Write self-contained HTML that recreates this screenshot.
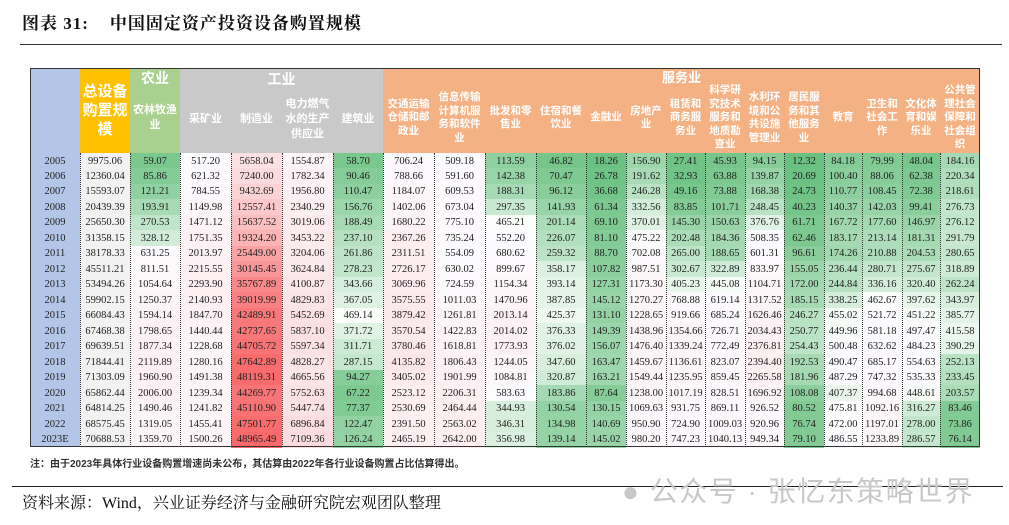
<!DOCTYPE html>
<html><head><meta charset="utf-8">
<style>
body{margin:0;width:1009px;height:525px;background:#fff;position:relative;overflow:hidden;font-family:"Liberation Serif","Noto Serif CJK SC",serif;}
.a{position:absolute;}
.title{left:22px;top:9px;font-size:17px;font-weight:bold;font-family:"Liberation Serif","Noto Serif CJK SC",serif;color:#111;letter-spacing:1px;}
.hd{position:absolute;color:#fff;font-weight:bold;font-family:"Liberation Sans","Noto Sans CJK SC",sans-serif;display:flex;align-items:center;justify-content:center;text-align:center;line-height:15px;}
.c{position:absolute;font-size:10.5px;color:#222;display:flex;align-items:center;justify-content:center;box-sizing:border-box;}
.dl{position:absolute;top:153px;height:294px;border-left:1px dotted #333;}
</style></head><body>
<div class="a title">图表 31:&nbsp;&nbsp;&nbsp;&nbsp;中国固定资产投资设备购置规模</div>
<div class="a" style="left:20px;top:44px;width:982px;height:1px;background:#333"></div>
<div id="t"></div>
<div class="a" style="left:30px;top:68px;width:950px;height:379px;border:1px solid #333;box-sizing:border-box;pointer-events:none;z-index:5"></div>
<div class="a" style="left:30px;top:455px;font-size:10px;font-weight:bold;color:#333;font-family:'Liberation Sans','Noto Sans CJK SC',sans-serif">注：由于2023年具体行业设备购置增速尚未公布，其估算由2022年各行业设备购置占比估算得出。</div>
<div class="a" style="left:12px;top:486px;width:991px;height:1px;background:#222"></div>
<div class="a" style="left:622px;top:470px;font-size:28px;color:#c8c8c8;font-family:'Liberation Sans','Noto Sans CJK SC',sans-serif;letter-spacing:1.5px">● 公众号 · 张忆东策略世界</div>
<div class="a" style="left:22px;top:490px;font-size:16px;color:#111;font-family:'Liberation Serif','Noto Serif CJK SC',serif">资料来源：Wind，兴业证券经济与金融研究院宏观团队整理</div>
<script>
(function(){
var X=[30,80,130,180,231,282,333,383,434,485,536,586,626,666,705,745,784,824,862,902,940,980];
var D=[
["2005",9975.06,59.07,517.20,5658.04,1554.87,58.70,706.24,509.18,113.59,46.82,18.26,156.90,27.41,45.93,94.15,12.32,84.18,79.99,48.04,184.16],
["2006",12360.04,85.86,621.32,7240.00,1782.34,90.46,788.66,591.60,142.38,70.47,26.78,191.62,32.93,63.88,139.87,20.69,100.40,88.06,62.38,220.34],
["2007",15593.07,121.21,784.55,9432.69,1956.80,110.47,1184.07,609.53,188.31,96.12,36.68,246.28,49.16,73.88,168.38,24.73,110.77,108.45,72.38,218.61],
["2008",20439.39,193.91,1149.98,12557.41,2340.29,156.76,1402.06,673.04,297.35,141.93,61.34,332.56,83.85,101.71,248.45,40.23,140.37,142.03,99.41,276.73],
["2009",25650.30,270.53,1471.12,15637.52,3019.06,188.49,1680.22,775.10,465.21,201.14,69.10,370.01,145.30,150.63,376.76,61.71,167.72,177.60,146.97,276.12],
["2010",31358.15,328.12,1751.35,19324.20,3453.22,237.10,2367.26,735.24,552.20,226.07,81.10,475.22,202.48,184.36,508.35,62.46,183.17,213.14,181.31,291.79],
["2011",38178.33,631.25,2013.97,25449.00,3204.06,261.86,2311.51,554.09,680.62,259.32,88.70,702.08,265.00,188.65,601.31,96.61,174.26,210.88,204.53,280.65],
["2012",45511.21,811.51,2215.55,30145.45,3624.84,278.23,2726.17,630.02,899.67,358.17,107.82,987.51,302.67,322.89,833.97,155.05,236.44,280.71,275.67,318.89],
["2013",53494.26,1054.64,2293.90,35767.89,4100.87,343.66,3069.96,724.59,1154.34,393.14,127.31,1173.30,405.23,445.08,1104.71,172.00,244.84,336.16,320.40,262.24],
["2014",59902.15,1250.37,2140.93,39019.99,4829.83,367.05,3575.55,1011.03,1470.96,387.85,145.12,1270.27,768.88,619.14,1317.52,185.15,338.25,462.67,397.62,343.97],
["2015",66084.43,1594.14,1847.70,42489.91,5452.69,469.14,3879.42,1261.81,2013.14,425.37,131.10,1228.65,919.66,685.24,1626.46,246.27,455.02,521.72,451.22,385.77],
["2016",67468.38,1798.65,1440.44,42737.65,5837.10,371.72,3570.54,1422.83,2014.02,376.33,149.39,1438.96,1354.66,726.71,2034.43,250.77,449.96,581.18,497.47,415.58],
["2017",69639.51,1877.34,1228.68,44705.72,5597.34,311.71,3780.46,1618.81,1773.93,376.02,156.07,1476.40,1339.24,772.49,2376.81,254.43,500.48,632.62,484.23,390.29],
["2018",71844.41,2119.89,1280.16,47642.89,4828.27,287.15,4135.82,1806.43,1244.05,347.60,163.47,1459.67,1136.61,823.07,2394.40,192.53,490.47,685.17,554.63,252.13],
["2019",71303.09,1960.90,1491.38,48119.31,4665.56,94.27,3405.02,1901.99,1084.81,320.87,163.21,1549.44,1235.95,859.45,2265.58,181.96,487.29,747.32,535.33,233.45],
["2020",65862.44,2006.00,1239.34,44269.77,5752.63,67.22,2523.12,2206.31,583.63,183.86,87.64,1238.00,1017.19,828.51,1696.92,108.08,407.37,994.68,448.61,203.57],
["2021",64814.25,1490.46,1241.82,45110.90,5447.74,77.37,2530.69,2464.44,344.93,130.54,130.15,1069.63,931.75,869.11,926.52,80.52,475.81,1092.16,316.27,83.46],
["2022",68575.45,1319.05,1455.41,47501.77,6896.84,122.47,2391.50,2563.02,346.31,134.98,140.69,950.90,724.90,1009.03,920.96,76.74,472.00,1197.01,278.00,73.86],
["2023E",70688.53,1359.70,1500.26,48965.49,7109.36,126.24,2465.19,2642.00,356.98,139.14,145.02,980.20,747.23,1040.13,949.34,79.10,486.55,1233.89,286.57,76.14]];
function lerp(a,b,t){return Math.round(a+(b-a)*t);}
function col(v){
 if(v<=480){var t=Math.pow(v/480,0.9);return "rgb("+lerp(99,255,t)+","+lerp(190,255,t)+","+lerp(123,255,t)+")";}
 var t=Math.min(1,Math.pow((v-480)/(48965-480),0.75));return "rgb("+lerp(252,248,t)+","+lerp(252,105,t)+","+lerp(255,107,t)+")";}
var h="";
var y0=153,rh=294/19;
h+='<div class="a" style="left:30px;top:68px;width:50px;height:379px;background:#b4c6e7"></div>';
function hd(x1,x2,y1,y2,bg,txt,fs,lh){return '<div class="hd" style="left:'+x1+'px;top:'+y1+'px;width:'+(x2-x1)+'px;height:'+(y2-y1)+'px;background:'+bg+';font-size:'+fs+'px'+(lh?';line-height:'+lh+'px':'')+'">'+txt+'</div>';}
h+=hd(80,130,68,153,"#ffc000","总设备<br>购置规<br>模",15,19);
h+=hd(130,180,68,153,"#a9d08e","",11);
h+='<div class="hd" style="left:130px;top:68px;width:50px;height:20px;font-size:14px">农业</div>';
h+='<div class="hd" style="left:130px;top:95px;width:50px;height:45px;font-size:11px">农林牧渔<br>业</div>';
h+=hd(180,383,68,153,"#c9c9c9","",11);
h+='<div class="hd" style="left:180px;top:68px;width:203px;height:22px;font-size:14px">工业</div>';
var ind=["采矿业","制造业","电力燃气<br>水的生产<br>供应业","建筑业"];
for(var i=0;i<4;i++)h+='<div class="hd" style="left:'+X[3+i]+'px;top:90px;width:'+(X[4+i]-X[3+i])+'px;height:58px;font-size:11px">'+ind[i]+'</div>';
h+=hd(383,980,68,153,"#f4b183","",11);
h+='<div class="hd" style="left:383px;top:68px;width:597px;height:18px;font-size:13px">服务业</div>';
var sv=["交通运输<br>仓储和邮<br>政业","信息传输<br>计算机服<br>务和软件<br>业","批发和零<br>售业","住宿和餐<br>饮业","金融业","房地产<br>业","租赁和<br>商务服<br>务业","科学研<br>究技术<br>服务和<br>地质勘<br>查业","水利环<br>境和公<br>共设施<br>管理业","居民服<br>务和其<br>他服务<br>业","教育","卫生和<br>社会工<br>作","文化体<br>育和娱<br>乐业","公共管<br>理社会<br>保障和<br>社会组<br>织"];
for(var i=0;i<14;i++)h+='<div class="hd" style="left:'+X[7+i]+'px;top:84px;width:'+(X[8+i]-X[7+i])+'px;height:68px;font-size:10.5px;line-height:13.5px">'+sv[i]+'</div>';
for(var r=0;r<19;r++){
 var y=y0+r*rh;
 for(var c=0;c<21;c++){
  var v=D[r][c],bg,txt;
  if(c==0){bg="transparent";txt=v;}
  else{txt=v.toFixed(2);bg=(c==1)?"#f2f2f2":col(v);}
  h+='<div class="c" style="left:'+X[c]+'px;top:'+y.toFixed(2)+'px;width:'+(X[c+1]-X[c])+'px;height:'+(rh+0.6).toFixed(2)+'px;background:'+bg+'">'+txt+'</div>';
 }
}
for(var c=1;c<21;c++)h+='<div class="dl" style="left:'+X[c]+'px"></div>';
document.getElementById("t").innerHTML=h;
})();
</script>
</body></html>
